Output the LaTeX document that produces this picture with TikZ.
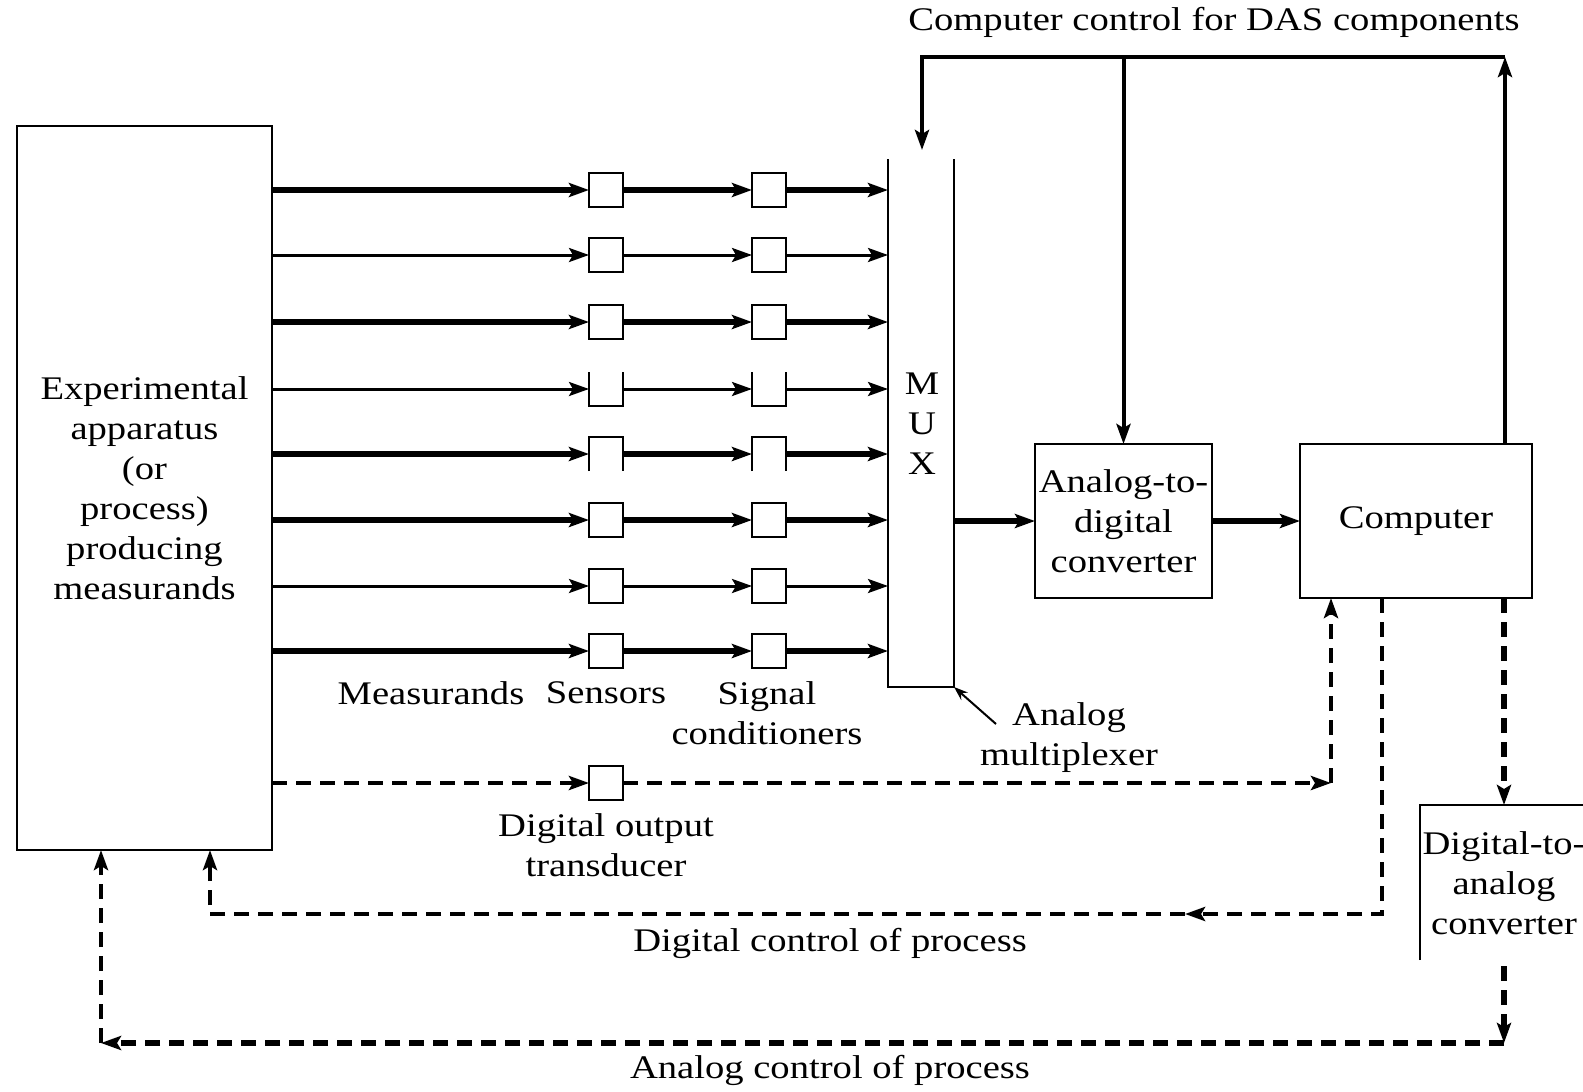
\documentclass[tikz,border=0pt]{standalone}
\usepackage{fontspec}
\setmainfont[FakeStretch=1.17]{Liberation Serif}
\usetikzlibrary{arrows.meta}

\tikzset{
  lbl/.style={font=\fontsize{33}{40}\selectfont, inner sep=0pt, outer sep=0pt, align=center},
  blk/.style={draw, line width=2pt, inner sep=0pt, outer sep=0pt, lbl},
  sbox/.style={inner sep=0pt, outer sep=0pt, minimum width=34pt, minimum height=34pt},
  sboxdraw/.style={sbox, draw, line width=2pt},
  tip/.style={-{Stealth[length=20pt,width=14pt,inset=4pt]}},
  sigheavy/.style={line width=5.5pt, tip},
  siglight/.style={line width=3pt, tip},
  ctrl/.style={line width=4pt},
  dashctl/.style={line width=4pt, dash pattern=on 15pt off 9pt},
  dashheavy/.style={line width=5.5pt, dash pattern=on 15pt off 9pt},
}

\begin{document}
\begin{tikzpicture}[x=1pt,y=-1pt]
\useasboundingbox[fill=white] (0,0) rectangle (1583,1092);

% main blocks
\node[blk, minimum width=255pt, minimum height=724pt] (app) at (144.5,488)
  {Experimental\\apparatus\\(or\\process)\\producing\\measurands};
\node[inner sep=0pt, outer sep=0pt, minimum width=66pt, minimum height=528pt] (mux) at (921,423) {};
\draw[line width=2pt] (mux.north west) -- (mux.south west) -- (mux.south east) -- (mux.north east);
\node[lbl] (mM) at (922,384) {M};
\node[lbl] (mU) at (922,424) {U};
\node[lbl] (mX) at (922,464) {X};
\node[blk, minimum width=177pt, minimum height=154pt] (adc) at (1123.5,521)
  {Analog-to-\\digital\\converter};
\node[blk, minimum width=232pt, minimum height=154pt] (comp) at (1416,521) {Computer};

% digital-to-analog converter (runs past the right edge)
\coordinate (dacTL) at (1420,805);
\coordinate (dacBL) at (1420,960);
\coordinate (dacTR) at (1600,805);
\draw[line width=2pt] (dacBL) -- (dacTL) -- (dacTR);
\node[lbl] (dac) at (1504,883) {Digital-to-\\analog\\converter};
\coordinate (dacTop) at (1504,805);
\coordinate (dacBot) at (1504,966);

% measurand channels: sensor and signal conditioner
\foreach \i/\y/\w/\b in {1/190/sigheavy/sboxdraw, 2/255/siglight/sboxdraw,
    3/322/sigheavy/sboxdraw, 4/389/siglight/sbox, 5/454/sigheavy/sbox,
    6/520/sigheavy/sboxdraw, 7/586/siglight/sboxdraw, 8/651/sigheavy/sboxdraw} {
  \node[\b] (s\i) at (606,\y) {};
  \node[\b] (c\i) at (769,\y) {};
  \draw[\w] (app.east |- s\i) -- (s\i.west);
  \draw[\w] (s\i.east) -- (c\i.west);
  \draw[\w] (c\i.east) -- (mux.west |- c\i);
}
% channel 4 boxes open at the top, channel 5 boxes open at the bottom
\draw[line width=2pt] (s4.north west) -- (s4.south west) -- (s4.south east) -- (s4.north east);
\draw[line width=2pt] (c4.north west) -- (c4.south west) -- (c4.south east) -- (c4.north east);
\draw[line width=2pt] (s5.south west) -- (s5.north west) -- (s5.north east) -- (s5.south east);
\draw[line width=2pt] (c5.south west) -- (c5.north west) -- (c5.north east) -- (c5.south east);

% MUX -> ADC -> computer
\draw[sigheavy] (mux.east |- adc) -- (adc.west);
\draw[sigheavy] (adc.east) -- (comp.west);

% computer control for DAS components
\coordinate (topR) at (1505,57);
\coordinate (topL) at (922,57);
\coordinate (topM) at (1123.5,57);
\coordinate (muxIn) at (922,150);
\draw[ctrl, tip] (comp.north -| topR) -- (topR);
\draw[ctrl, tip] (topR) -- (topL) -- (muxIn);
\draw[ctrl, tip] (topM) -- (adc.north);
\node[lbl] (ttl) at (1214,22) {Computer control for DAS components};

% labels under the channels
\node[lbl] (lMeas) at (431,693) {Measurands};
\node[lbl] (lSens) at (606,693) {Sensors};
\node[lbl] (lSig) at (767,713) {Signal\\conditioners};
\node[lbl] (lMux) at (1069,738) {Analog\\multiplexer};
\coordinate (muxArrow) at (996,724);
\draw[line width=2pt, -{Stealth[length=14pt,width=10pt]}] (muxArrow) -- (mux.south east);

% digital output transducer
\node[sboxdraw] (dot) at (606,783) {};
\coordinate (dotC) at (1331,783);
\draw[dashctl, tip] (app.east |- dot) -- (dot.west);
\draw[dashctl, tip] (dot.east) -- (dotC);
\draw[dashctl, tip] (dotC) -- (comp.south -| dotC);
\node[lbl] (lDot) at (606,845) {Digital output\\transducer};

% digital control of process
\coordinate (dcA) at (1382,914);
\coordinate (dcM) at (1185,914);
\coordinate (dcT) at (1195,914);
\coordinate (dcB) at (210,914);
\draw[dashctl] (comp.south -| dcA) -- (dcA) -- (dcT);
\draw[line width=4pt, tip] (dcT) -- (dcM);
\draw[dashctl, tip] (dcM) -- (dcB) -- (app.south -| dcB);
\node[lbl] (lDc) at (830,943) {Digital control of process};

% analog control of process
\coordinate (acA) at (1504,1043);
\coordinate (acB) at (101,1043);
\draw[dashheavy, tip] (comp.south -| dacTop) -- (dacTop);
\draw[dashheavy, tip] (dacBot) -- (acA);
\draw[dashheavy, tip] (acA) -- (acB);
\draw[dashctl, tip] (acB) -- (app.south -| acB);
\node[lbl] (lAc) at (830,1070) {Analog control of process};
\end{tikzpicture}
\end{document}
